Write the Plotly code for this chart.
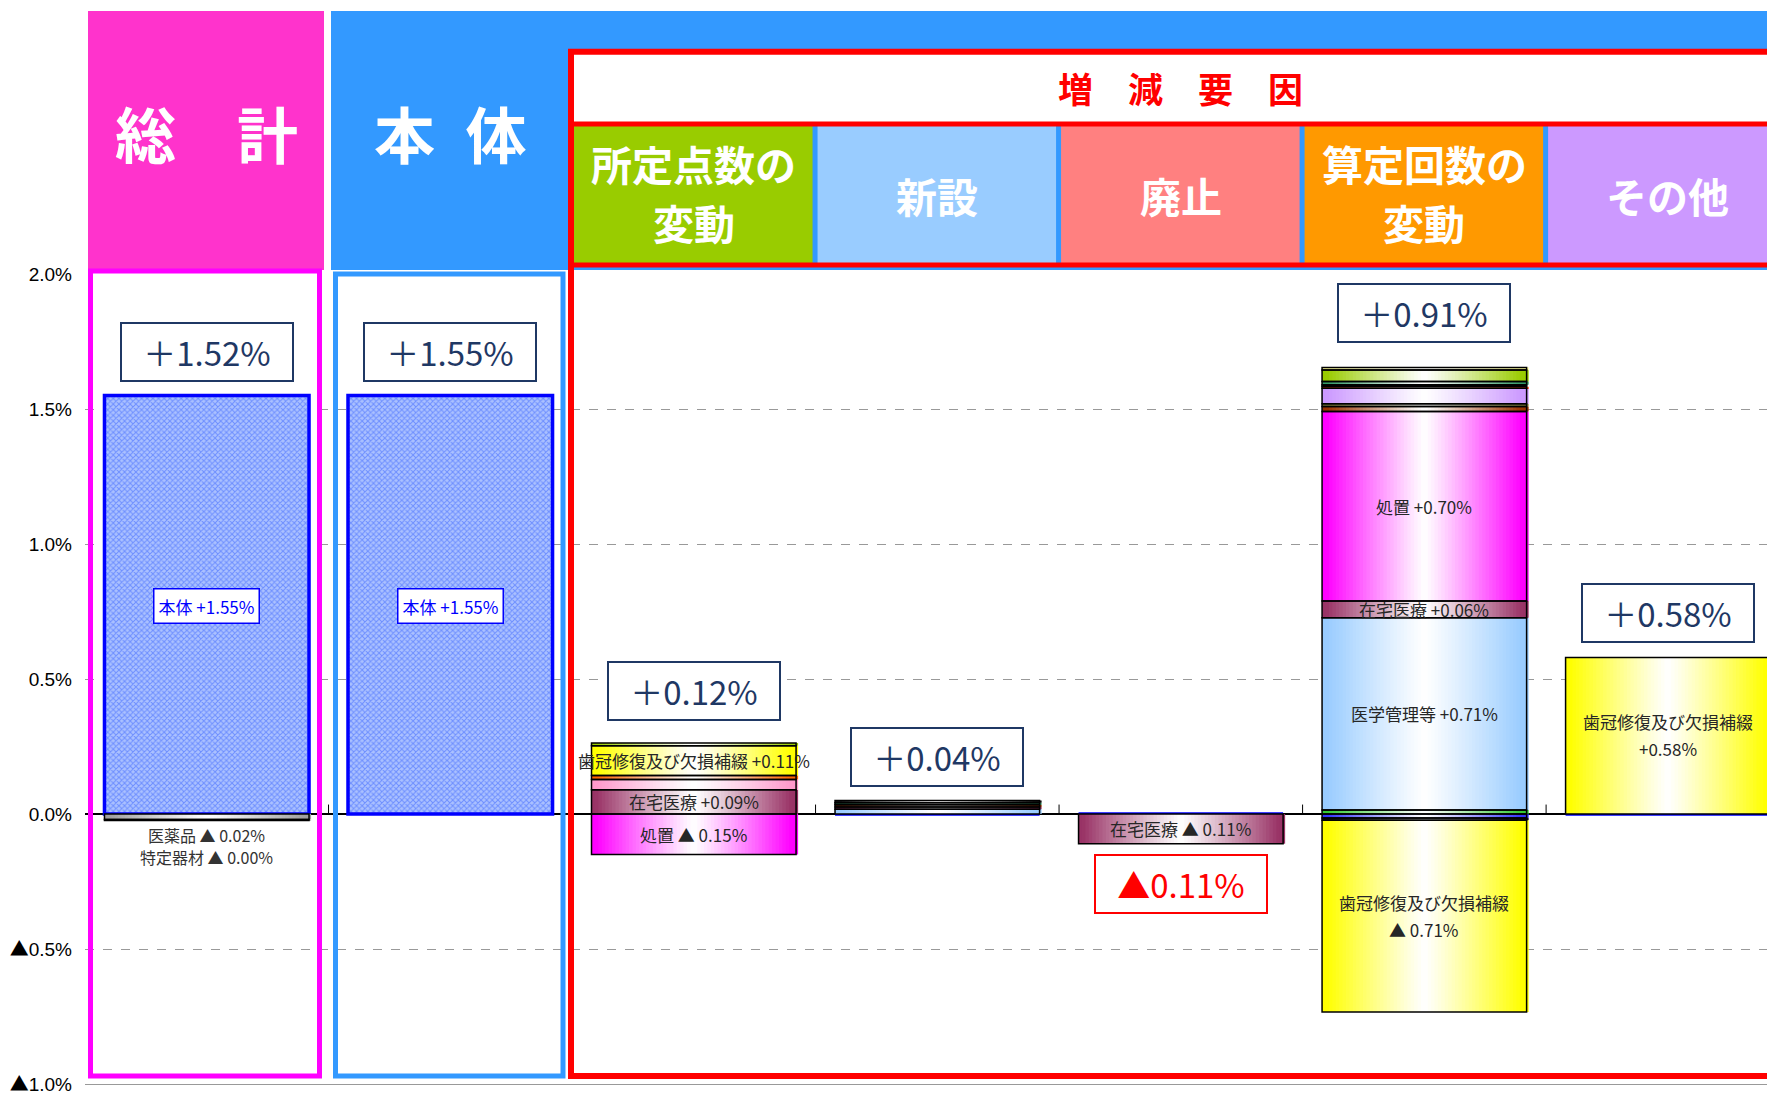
import numpy as np
import plotly.graph_objects as go

# --- data -----------------------------------------------------------------
categories = ["総計", "本体", "所定点数の変動", "新設", "廃止", "算定回数の変動", "その他"]
header_labels = ["所定点数の<br>変動", "新設", "廃止", "算定回数の<br>変動", "その他"]
total_labels = ["＋1.52%", "＋1.55%", "＋0.12%", "＋0.04%", "▲0.11%", "＋0.91%", "＋0.58%"]
y_tickvals = [-1.0, -0.5, 0.0, 0.5, 1.0, 1.5, 2.0]
y_ticktext = ["▲1.0%", "▲0.5%", "0.0%", "0.5%", "1.0%", "1.5%", "2.0%"]

hontai = [1.55, 1.55, 0, 0, 0, 0, 0]
iyakuhin = [-0.02, 0, 0, 0, 0, 0, 0]
tokutei_kizai = [-0.004, 0, 0, 0, 0, 0, 0]
shoshin = [0, 0, 0, 0, 0, 0.015, 0]
igaku_kanri = [0, 0, 0, 0.018, 0, 0.712, 0]
zaitaku = [0, 0, 0.09, 0.008, -0.11, 0.062, 0]
shochi = [0, 0, -0.15, 0, 0, 0.702, 0]
shujutsu = [0, 0, 0, 0.008, 0, 0.018, 0]
masui = [0, 0, 0.038, 0, 0, 0, 0]
hoshasen = [0, 0, 0.015, 0, 0, 0, 0]
kensa = [0, 0, 0, 0, 0, 0.01, 0]
gazo = [0, 0, 0, 0, 0, 0.058, 0]
toyaku = [0, 0, 0, 0, 0, 0.007, 0]
chusha = [0, 0, 0, 0, 0, 0.006, 0]
riha = [0, 0, 0, 0.008, 0, 0.012, 0]
byori = [0, 0, 0, 0, 0, -0.015, 0]
sonota = [0, 0, 0, 0.008, 0, -0.008, 0]
shikan = [0, 0, 0.11, 0, 0, -0.71, 0.58]
kyosei = [0, 0, 0.01, 0, 0, 0.042, 0]
kyoka = [0, 0, 0, 0, 0, 0.01, 0]

# stacking order (bottom -> top) and edge colour of each gradient
stack = [
    ("本体", hontai, None),
    ("医薬品", iyakuhin, "#A0A0A0"),
    ("特定器材", tokutei_kizai, "#C8C8C8"),
    ("初・再診", shoshin, "#33CC33"),
    ("医学管理等", igaku_kanri, "#99CCFF"),
    ("在宅医療", zaitaku, "#993366"),
    ("処置", shochi, "#FF00FF"),
    ("手術", shujutsu, "#993300"),
    ("麻酔", masui, "#FF99CC"),
    ("放射線治療", hoshasen, "#FF6600"),
    ("検査", kensa, "#999944"),
    ("画像診断", gazo, "#CC99FF"),
    ("投薬", toyaku, "#FF3300"),
    ("注射", chusha, "#FFFFFF"),
    ("リハビリテーション", riha, "#339966"),
    ("病理診断", byori, "#3333FF"),
    ("その他", sonota, "#111111"),
    ("歯冠修復及び欠損補綴", shikan, "#FFFF00"),
    ("歯科矯正", kyosei, "#99CC00"),
    ("強化", kyoka, "#FFFF99"),
]

# --- layout constants (page pixels; the page body adds an 8px margin) ----
OFF = 8
FIG_W, FIG_H = 1775 - OFF, 1096 - OFF
L, T, W, H = 85, 274, 1690, 816
X0, X1 = -0.5, 6.44
BAR_W = 0.84
N_STRIP = 60
FONT = "Noto Sans CJK JP"
NAVY = "#1F3864"
TRI = "<span style='font-family:Noto Sans CJK JP'>▲</span>"


def px(x):
    return (x - L) / W


def py(y):
    return (T + H - y) / H


def xcat(v):
    return L + (v - X0) / (X1 - X0) * W


def blend(hex_color, t):
    r, g, b = (int(hex_color[i:i + 2], 16) for i in (1, 3, 5))
    return "rgb({:.0f},{:.0f},{:.0f})".format(
        255 + (r - 255) * t, 255 + (g - 255) * t, 255 + (b - 255) * t)


# relative stacking
n = len(categories)
pos = np.zeros(n)
neg = np.zeros(n)
bases = {}
for name, vals, _ in stack:
    v = np.array(vals, dtype=float)
    bases[name] = np.where(v >= 0, pos, neg)
    pos += np.clip(v, 0, None)
    neg += np.clip(v, None, 0)

seg_x, seg_y, seg_b, seg_c = [], [], [], []
for name, vals, color in stack:
    if color is None:
        continue
    for i, v in enumerate(vals):
        if v != 0:
            seg_x.append(i)
            seg_y.append(v)
            seg_b.append(bases[name][i])
            seg_c.append(color)

fig = go.Figure()

fig.add_trace(go.Bar(
    x=list(range(n)), y=hontai, base=bases["本体"], width=BAR_W,
    marker=dict(color="#8AA6F8",
                pattern=dict(shape="x", fgcolor="#2F5BFF", bgcolor="#ABC1FF",
                             size=4, solidity=0.45),
                line=dict(color="#0000FF", width=3.5)),
    hoverinfo="skip", showlegend=False,
))

# horizontal "colour - white - colour" gradient, drawn as thin strips
sw = BAR_W / N_STRIP
for k in range(N_STRIP):
    d = abs((k + 0.5) / N_STRIP - 0.5) * 2
    t = min(1.0, d ** 1.1 * 1.05)
    fig.add_trace(go.Bar(
        x=seg_x, y=seg_y, base=seg_b,
        width=sw * 1.6, offset=-BAR_W / 2 + k * sw,
        marker=dict(color=[blend(c, t) for c in seg_c], line=dict(width=0)),
        hoverinfo="skip", showlegend=False,
    ))

fig.add_trace(go.Bar(
    x=seg_x, y=seg_y, base=seg_b, width=BAR_W,
    marker=dict(color="rgba(0,0,0,0)", line=dict(color="#000000", width=1.5)),
    hoverinfo="skip", showlegend=False,
))

shapes = []
ann = []

# tick marks on the zero line between categories
for i in range(n - 1):
    shapes.append(dict(type="line", xref="x", yref="y", x0=i + 0.5, x1=i + 0.5,
                       y0=0, y1=0.035, line=dict(color="#000000", width=1)))

# header blocks
shapes += [
    dict(type="rect", xref="paper", yref="paper", x0=px(88), x1=px(1002),
         y0=py(4), y1=py(-2), fillcolor="#0C2A6B", line=dict(width=0)),
    dict(type="rect", xref="paper", yref="paper", x0=px(88), x1=px(324),
         y0=py(270), y1=py(9), fillcolor="#FF33CC", line=dict(width=0)),
    dict(type="rect", xref="paper", yref="paper", x0=px(331), x1=px(1790),
         y0=py(270), y1=py(9), fillcolor="#3399FF", line=dict(width=0)),
    dict(type="rect", xref="paper", yref="paper", x0=px(571), x1=px(1790),
         y0=py(123), y1=py(50), fillcolor="#FFFFFF", line=dict(width=0)),
]
sub_colors = ["#99CC00", "#99CCFF", "#FF8080", "#FF9900", "#CC99FF"]
for j, col in enumerate(sub_colors):
    i = j + 2
    shapes.append(dict(type="rect", xref="paper", yref="paper",
                       x0=px(xcat(i - 0.5) + 2), x1=px(xcat(i + 0.5) - 3),
                       y0=py(263), y1=py(125), fillcolor=col, line=dict(width=0)))
    lines = header_labels[j].split("<br>")
    ys = [162, 222] if len(lines) == 2 else [194]
    for txt, yy in zip(lines, ys):
        ann.append(dict(xref="paper", yref="paper", x=px(xcat(i)), y=py(yy),
                        text="<b>%s</b>" % txt, showarrow=False,
                        font=dict(family=FONT, size=41, color="#FFFFFF"),
                        xanchor="center", yanchor="middle"))

# frames
shapes += [
    dict(type="rect", xref="paper", yref="paper", x0=px(571), x1=px(1795),
         y0=py(1082), y1=py(50), line=dict(color="#FF0000", width=6)),
    dict(type="line", xref="paper", yref="paper", x0=px(571), x1=px(1795),
         y0=py(123), y1=py(123), line=dict(color="#FF0000", width=5)),
    dict(type="line", xref="paper", yref="paper", x0=px(571), x1=px(1795),
         y0=py(265), y1=py(265), line=dict(color="#FF0000", width=5)),
    dict(type="rect", xref="paper", yref="paper", x0=px(90.5), x1=px(319.5),
         y0=py(1082), y1=py(271), line=dict(color="#FF00FF", width=5)),
    dict(type="rect", xref="paper", yref="paper", x0=px(335.5), x1=px(563),
         y0=py(1082), y1=py(274), line=dict(color="#3399FF", width=5)),
]

ann += [
    dict(xref="paper", yref="paper", x=px(xcat(0)), y=py(131), text="<b>総\u3000計</b>",
         xanchor="center", yanchor="middle",
         showarrow=False, font=dict(family=FONT, size=61, color="#FFFFFF")),
    dict(xref="paper", yref="paper", x=px(xcat(1)), y=py(131), text="<b>本\u2002体</b>",
         xanchor="center", yanchor="middle",
         showarrow=False, font=dict(family=FONT, size=61, color="#FFFFFF")),
    dict(xref="paper", yref="paper", x=px(xcat(4)), y=py(86),
         text="<b>増\u3000減\u3000要\u3000因</b>", xanchor="center", yanchor="middle",
         showarrow=False, font=dict(family=FONT, size=35, color="#FF0000")),
]

# total boxes
total_y = [1.71, 1.71, 0.455, 0.21, -0.258, 1.855, 0.745]
for i, (lab, yy) in enumerate(zip(total_labels, total_y)):
    red = lab.startswith("▲")
    ann.append(dict(x=i, y=yy, xref="x", yref="y", text=lab, showarrow=False,
                    font=dict(family=FONT, size=33, color="#FF0000" if red else NAVY),
                    bgcolor="#FFFFFF", bordercolor="#FF0000" if red else NAVY,
                    borderwidth=2, borderpad=2, width=166, height=52))

# inner labels
for i in (0, 1):
    ann.append(dict(x=i, y=0.771, xref="x", yref="y", text="本体 +1.55%",
                    showarrow=False, font=dict(family=FONT, size=17, color="#0000FF"),
                    bgcolor="#FFFFFF", bordercolor="#0000FF", borderwidth=1.5, borderpad=4))

ann.append(dict(x=0, y=-0.076, xref="x", yref="y", text="医薬品 ▲ 0.02%", showarrow=False,
                font=dict(family=FONT, size=16, color="#333333")))
ann.append(dict(x=0, y=-0.161, xref="x", yref="y", text="特定器材 ▲ 0.00%", showarrow=False,
                font=dict(family=FONT, size=16, color="#333333")))


def mid(name, i):
    vals = dict((s[0], s[1]) for s in stack)[name]
    return bases[name][i] + vals[i] / 2


seg_labels = [
    ("歯冠修復及び欠損補綴 +0.11%", "歯冠修復及び欠損補綴", 2),
    ("在宅医療 +0.09%", "在宅医療", 2),
    ("処置 ▲ 0.15%", "処置", 2),
    ("在宅医療 ▲ 0.11%", "在宅医療", 4),
    ("処置 +0.70%", "処置", 5),
    ("在宅医療 +0.06%", "在宅医療", 5),
    ("医学管理等 +0.71%", "医学管理等", 5),
    ("歯冠修復及び欠損補綴<br>▲ 0.71%", "歯冠修復及び欠損補綴", 5),
    ("歯冠修復及び欠損補綴<br>+0.58%", "歯冠修復及び欠損補綴", 6),
]
for txt, name, i in seg_labels:
    parts = txt.split("<br>")
    shifts = [14, -13] if len(parts) == 2 else [0]
    for p, s in zip(parts, shifts):
        ann.append(dict(x=i, y=mid(name, i), xref="x", yref="y", text=p, yshift=s,
                        showarrow=False, font=dict(family=FONT, size=17, color="#262626")))

fig.update_layout(
    width=FIG_W, height=FIG_H, autosize=False,
    margin=dict(l=L - OFF, r=FIG_W - (L - OFF) - W, t=T - OFF,
                b=FIG_H - (T - OFF) - H, pad=0),
    paper_bgcolor="#FFFFFF", plot_bgcolor="#FFFFFF",
    barmode="overlay", hovermode=False, showlegend=False,
    shapes=shapes, annotations=ann,
    xaxis=dict(range=[X0, X1], showticklabels=False, showgrid=False, zeroline=False,
               showline=True, linecolor="#999999", linewidth=1, fixedrange=True),
    yaxis=dict(range=[-1.0, 2.0], tickvals=y_tickvals,
               ticktext=[s.replace("▲", TRI) for s in y_ticktext],
               showgrid=True, gridcolor="#999999", griddash="dash", gridwidth=1,
               zeroline=True, zerolinecolor="#000000", zerolinewidth=1.5,
               tickfont=dict(family="Liberation Sans Narrow, Liberation Sans", size=19,
                             color="#000000"),
               ticklabelstandoff=12, ticklabeloverflow="allow", fixedrange=True),
)

fig.write_html("out.html")
